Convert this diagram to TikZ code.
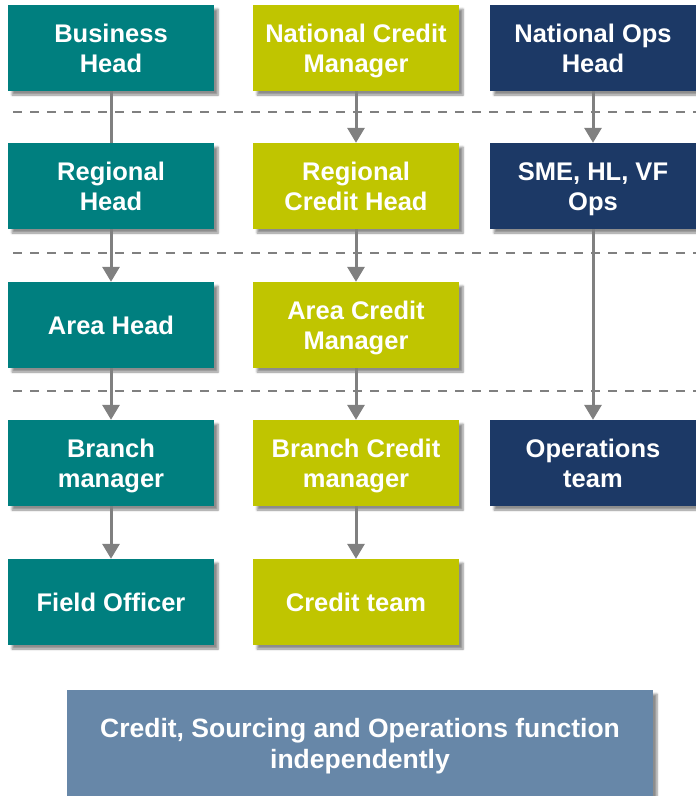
\documentclass[tikz,border=0pt]{standalone}
\usepackage{fontspec}
\setmainfont{Liberation Sans}
\usetikzlibrary{arrows.meta,shadows.blur}
\definecolor{tealc}{RGB}{0,127,127}
\definecolor{limec}{RGB}{192,197,0}
\definecolor{navyc}{RGB}{28,57,102}
\definecolor{slatec}{RGB}{103,135,168}
\definecolor{linec}{RGB}{128,128,128}
\tikzset{
  orgbox/.style={rectangle, minimum width=206pt, minimum height=86pt, inner sep=0pt,
    text=white, align=center, font=\fontsize{25.5}{30}\selectfont\bfseries,
    text height=48.3pt, text depth=0pt,
    blur shadow={shadow xshift=4pt, shadow yshift=-4pt, shadow blur steps=6, shadow opacity=45}},
  oneline/.style={text height=18.3pt},
  tealbox/.style={orgbox, fill=tealc},
  limebox/.style={orgbox, fill=limec},
  navybox/.style={orgbox, fill=navyc},
  notebox/.style={orgbox, fill=slatec, minimum width=586pt, minimum height=106pt,
    font=\fontsize{26.5}{31}\selectfont\bfseries, text height=50pt, text depth=0pt},
  sep/.style={draw=linec, line width=2.8pt, dash pattern=on 9pt off 8pt},
  conn/.style={draw=linec, line width=3pt},
  arr/.style={conn, -{Triangle[width=17pt,length=15pt]}}
}
\begin{document}
\begin{tikzpicture}[x=1pt,y=-1pt]
\useasboundingbox (0,0) rectangle (696,796);
% separators
\coordinate (s1a) at (13,112); \coordinate (s1b) at (696,112);
\coordinate (s2a) at (13,253); \coordinate (s2b) at (696,253);
\coordinate (s3a) at (13,391); \coordinate (s3b) at (696,391);
\draw[sep] (s1a) -- (s1b);
\draw[sep] (s2a) -- (s2b);
\draw[sep] (s3a) -- (s3b);
% nodes
\node[tealbox] (bh) at (111,48) {Business\\Head};
\node[limebox] (ncm) at (356,48) {National Credit\\Manager};
\node[navybox] (noh) at (593,48) {National Ops\\Head};
\node[tealbox] (rh) at (111,186) {Regional\\Head};
\node[limebox] (rch) at (356,186) {Regional\\Credit Head};
\node[navybox] (sme) at (593,186) {SME, HL, VF\\Ops};
\node[tealbox, oneline] (ah) at (111,325) {Area Head};
\node[limebox] (acm) at (356,325) {Area Credit\\Manager};
\node[tealbox] (bm) at (111,463) {Branch\\manager};
\node[limebox] (bcm) at (356,463) {Branch Credit\\manager};
\node[navybox] (ot) at (593,463) {Operations\\team};
\node[tealbox, oneline] (fo) at (111,602) {Field Officer};
\node[limebox, oneline] (ct) at (356,602) {Credit team};
\node[notebox] (note) at (360,743) {Credit, Sourcing and Operations function\\independently};
% connectors
\draw[conn] (bh) -- (rh);
\draw[arr] (rh) -- (ah);
\draw[arr] (ah) -- (bm);
\draw[arr] (bm) -- (fo);
\draw[arr] (ncm) -- (rch);
\draw[arr] (rch) -- (acm);
\draw[arr] (acm) -- (bcm);
\draw[arr] (bcm) -- (ct);
\draw[arr] (noh) -- (sme);
\draw[arr] (sme) -- (ot);
\end{tikzpicture}
\end{document}
